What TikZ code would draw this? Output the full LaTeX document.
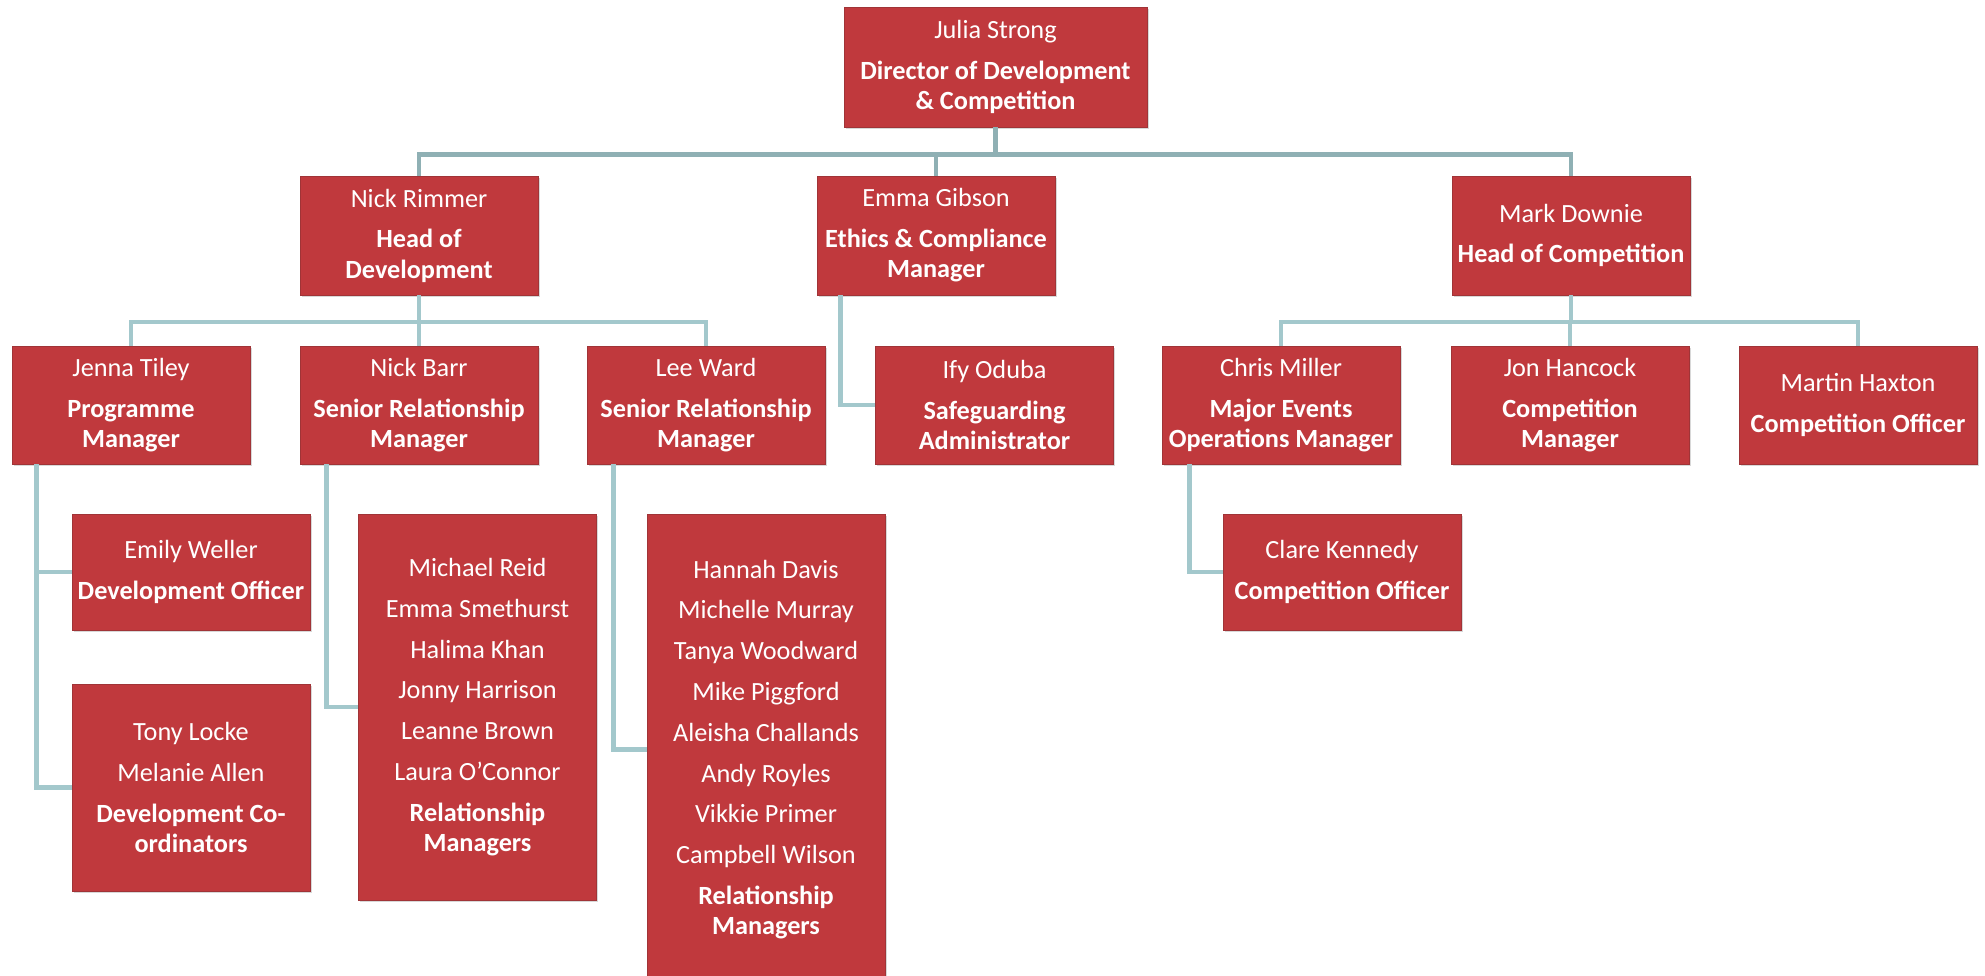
\documentclass[tikz,border=0pt]{standalone}
\usepackage{fontspec}
\setmainfont{Carlito}
\usetikzlibrary{shadows}
\definecolor{boxred}{RGB}{192,57,61}
\definecolor{boxedge}{RGB}{160,52,55}
\definecolor{linetop}{RGB}{143,176,180}
\definecolor{linelow}{RGB}{163,200,204}
\newcommand{\nm}[1]{#1\\[8pt]}
\newcommand{\ttl}[1]{\textbf{#1}}
\tikzset{
  card/.style={rectangle, fill=boxred, draw=boxedge, line width=0.6pt,
    text=white, align=center, inner sep=0pt,
    font=\fontsize{19.7}{22.6}\selectfont,
    drop shadow={shadow xshift=1.2pt, shadow yshift=-1.8pt, opacity=0.3}},
  std/.style={card, minimum width=178.5pt},
  toplink/.style={draw=linetop, line width=3.6pt},
  link/.style={draw=linelow, line width=3.6pt},
}
\begin{document}
\begin{tikzpicture}[x=0.75pt,y=-0.75pt]
\useasboundingbox (0,0) rectangle (1985,975);
\fill[white] (0,0) rectangle (1985,975);
% level 1
\node[card, minimum width=227.25pt, minimum height=90pt] (julia) at (995.5,67)
  {\nm{Julia Strong}\ttl{Director of Development}\\\ttl{\& Competition}};
% level 2
\node[std, minimum height=89.25pt] (rimmer) at (419,235.5)
  {\nm{Nick Rimmer}\ttl{Head of}\\\ttl{Development}};
\node[std, minimum height=89.25pt] (gibson) at (936,235.5)
  {\nm{Emma Gibson}\ttl{Ethics \& Compliance}\\\ttl{Manager}};
\node[std, minimum height=89.25pt] (downie) at (1571,235.5)
  {\nm{Mark Downie}\ttl{Head of Competition}};
% level 3
\node[std, minimum height=88.5pt] (tiley) at (131,405)
  {\nm{Jenna Tiley}\ttl{Programme}\\\ttl{Manager}};
\node[std, minimum height=88.5pt] (barr) at (419,405)
  {\nm{Nick Barr}\ttl{Senior Relationship}\\\ttl{Manager}};
\node[std, minimum height=88.5pt] (ward) at (706,405)
  {\nm{Lee Ward}\ttl{Senior Relationship}\\\ttl{Manager}};
\node[std, minimum height=88.5pt] (oduba) at (994.5,405)
  {\nm{Ify Oduba}\ttl{Safeguarding}\\\ttl{Administrator}};
\node[std, minimum height=88.5pt] (miller) at (1281,405)
  {\nm{Chris Miller}\ttl{Major Events}\\\ttl{Operations Manager}};
\node[std, minimum height=88.5pt] (hancock) at (1570,405)
  {\nm{Jon Hancock}\ttl{Competition}\\\ttl{Manager}};
\node[std, minimum height=88.5pt] (haxton) at (1858,405)
  {\nm{Martin Haxton}\ttl{Competition Officer}};
% level 4
\node[std, minimum height=87pt] (weller) at (191,572)
  {\nm{Emily Weller}\ttl{Development Officer}};
\node[std, minimum height=155.25pt] (coord) at (191,787.5)
  {\nm{Tony Locke}\nm{Melanie Allen}\ttl{Development Co-}\\\ttl{ordinators}};
\node[std, minimum height=289.5pt] (rmA) at (477.5,707)
  {\nm{Michael Reid}\nm{Emma Smethurst}\nm{Halima Khan}\nm{Jonny Harrison}\nm{Leanne Brown}\nm{Laura O’Connor}\ttl{Relationship}\\\ttl{Managers}};
\node[std, minimum height=353.25pt] (rmB) at (766,749.5)
  {\nm{Hannah Davis}\nm{Michelle Murray}\nm{Tanya Woodward}\nm{Mike Piggford}\nm{Aleisha Challands}\nm{Andy Royles}\nm{Vikkie Primer}\nm{Campbell Wilson}\ttl{Relationship}\\\ttl{Managers}};
\node[std, minimum height=87pt] (kennedy) at (1342,572)
  {\nm{Clare Kennedy}\ttl{Competition Officer}};
% connectors level 1 -> 2
\draw[toplink] (julia.south) -- ++(0,27) -| (rimmer.north);
\draw[toplink] (julia.south) -- ++(0,27) -| (gibson.north);
\draw[toplink] (julia.south) -- ++(0,27) -| (downie.north);
% level 2 -> 3
\draw[link] (rimmer.south) -- ++(0,26.5) -| (tiley.north);
\draw[link] (rimmer.south) -- ++(0,26.5) -| (barr.north);
\draw[link] (rimmer.south) -- ++(0,26.5) -| (ward.north);
\draw[link] ([xshift=18pt]gibson.south west) |- (oduba.west);
\draw[link] (downie.south) -- ++(0,26.5) -| (miller.north);
\draw[link] (downie.south) -- ++(0,26.5) -| (hancock.north);
\draw[link] (downie.south) -- ++(0,26.5) -| (haxton.north);
% level 3 -> 4
\draw[link] ([xshift=18.75pt]tiley.south west) |- (weller.west);
\draw[link] ([xshift=18.75pt]tiley.south west) |- (coord.west);
\draw[link] ([xshift=20pt]barr.south west) |- (rmA.west);
\draw[link] ([xshift=20pt]ward.south west) |- (rmB.west);
\draw[link] ([xshift=21pt]miller.south west) |- (kennedy.west);
\end{tikzpicture}
\end{document}
